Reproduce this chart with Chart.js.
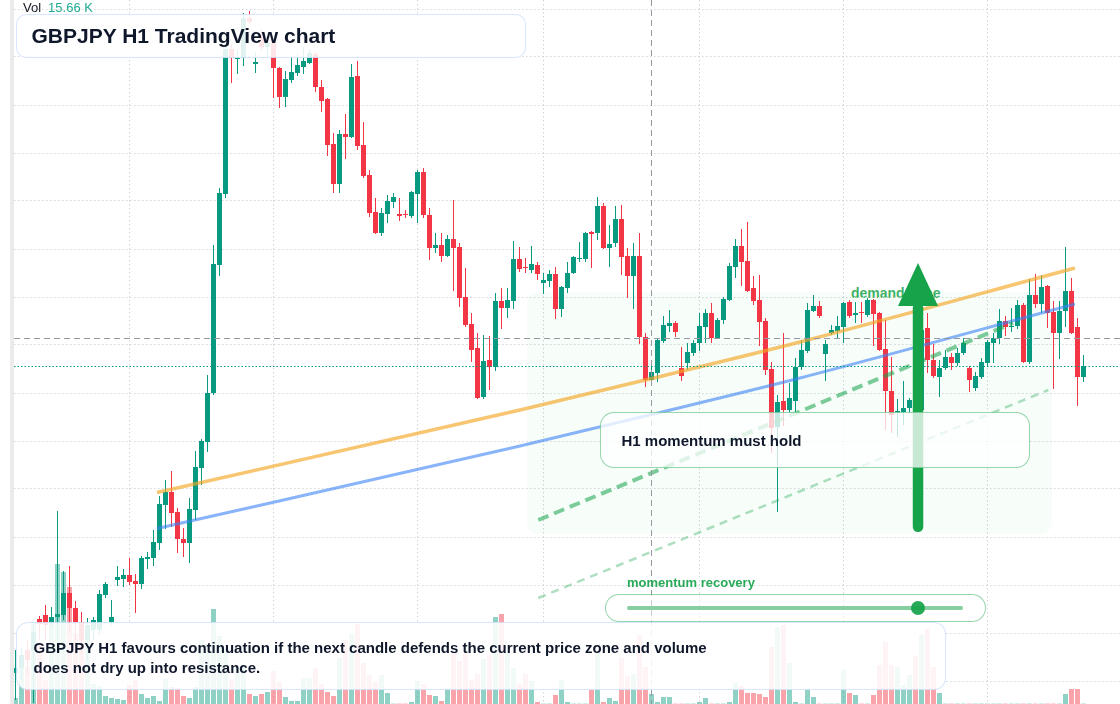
<!DOCTYPE html>
<html lang="en">
<head>
<meta charset="utf-8">
<title>GBPJPY H1 TradingView chart</title>
<script src="https://cdn.jsdelivr.net/npm/chart.js@4.4.1/dist/chart.umd.min.js"></script>
<style>
  html, body { margin: 0; padding: 0; background: #fff; }
  #stage { position: relative; width: 1120px; height: 704px; overflow: hidden;
           font-family: "Liberation Sans", Arial, sans-serif; color: #0f172a; }
  #stage > * { position: absolute; box-sizing: border-box; }
  #axisStrip { left: 10px; top: 0; width: 4px; height: 704px; background: #ebebeb; }
  #chart { left: 0; top: 0; z-index: 1; }
  #zoneLabel { left: 851px; top: 285px; line-height: 16px; font-size: 14px; font-weight: bold;
               color: rgba(22,163,74,.85); white-space: nowrap; z-index: 0; }
  #volLabel { left: 23px; top: 0; line-height: 16px; font-size: 13px; color: #131722; z-index: 3; }
  #volLabel span { color: #22ab94; margin-left: 7px; }
  .blueBox { border: 1.5px solid rgba(59,130,246,.2); background: rgba(255,255,255,.88); z-index: 2; }
  #titleBox { left: 16px; top: 14px; width: 510px; height: 44px; border-radius: 10px;
              padding-left: 14.5px; line-height: 41px; font-size: 21px; font-weight: bold; white-space: nowrap; }
  #captionBox { left: 16px; top: 622px; width: 930px; height: 68px; border-radius: 12px;
                padding: 14.5px 0 0 16.5px; line-height: 20px; font-size: 15px; font-weight: bold; }
  #noteBox { left: 600px; top: 412px; width: 430px; height: 56px; border-radius: 14px; z-index: 2;
             border: 1.5px solid rgba(22,163,74,.45); background: rgba(255,255,255,.76);
             padding: 2px 0 0 20.5px; line-height: 51px; font-size: 15px; font-weight: bold; white-space: nowrap; }
  #sliderLabel { left: 627px; top: 575px; line-height: 16px; font-size: 13px; font-weight: bold;
                 color: rgba(22,163,74,.92); white-space: nowrap; z-index: 2; }
  #sliderPill { left: 605px; top: 594px; width: 381px; height: 28px; border-radius: 14px; z-index: 2;
                border: 1.5px solid rgba(22,163,74,.45); background: rgba(255,255,255,.55); }
  #sliderTrack { left: 627px; top: 606px; width: 336px; height: 4px; border-radius: 2px; z-index: 2;
                 background: rgba(22,163,74,.52); }
  #sliderKnob { left: 911px; top: 601px; width: 14px; height: 14px; border-radius: 50%; z-index: 2;
                background: rgba(22,163,74,.92); }
</style>
</head>
<body>
<div id="stage">
  <div id="axisStrip"></div>
  <div id="zoneLabel">demand zone</div>
  <canvas id="chart" width="1120" height="704"></canvas>
  <div id="volLabel">Vol<span>15.66 K</span></div>
  <div id="noteBox">H1 momentum must hold</div>
  <div id="sliderLabel">momentum recovery</div>
  <div id="sliderPill"></div>
  <div id="sliderTrack"></div>
  <div id="sliderKnob"></div>
  <div id="captionBox" class="blueBox">GBPJPY H1 favours continuation if the next candle defends the current price zone and volume<br>does not dry up into resistance.</div>
  <div id="titleBox" class="blueBox">GBPJPY H1 TradingView chart</div>
</div>

<script>
// ── Hourly candles (index 0 = oldest bar on screen) ─────────
const opens = [
  193.27,193.32,193.50,193.50,193.81,193.85,193.78,193.83,193.85,194.07,193.92,193.78,
  193.60,193.70,193.70,194.05,193.78,194.20,194.21,194.25,194.19,194.16,194.41,194.42,
  194.57,194.95,195.08,194.88,194.61,194.57,194.90,195.32,195.58,196.07,197.35,198.06,
  199.51,199.41,199.42,199.82,199.36,199.63,199.53,199.57,199.32,199.03,199.20,199.27,
  199.33,199.37,199.46,199.13,199.01,198.56,198.16,198.66,198.63,199.24,198.55,198.25,
  197.88,197.67,197.86,197.98,197.86,197.86,197.84,198.06,198.28,197.85,197.52,197.55,
  197.44,197.61,197.53,197.03,196.76,196.52,196.03,196.40,196.33,196.99,196.92,196.99,
  197.41,197.33,197.30,197.35,197.17,197.19,197.26,196.91,197.12,197.27,197.41,197.41,
  197.68,197.67,197.94,197.52,197.57,197.81,197.44,197.24,197.44,196.63,196.20,196.27,
  196.59,196.74,196.77,196.32,196.37,196.47,196.57,196.73,196.87,196.62,196.80,197.00,
  197.33,197.54,197.39,197.12,197.00,196.79,196.31,195.73,195.99,195.90,195.99,196.33,
  196.49,196.89,196.94,196.46,196.67,196.69,196.73,196.98,196.85,196.88,196.85,197.00,
  196.87,196.51,196.09,195.87,195.88,195.92,196.00,195.90,196.72,196.40,196.23,196.32,
  196.43,196.37,196.47,196.32,196.12,196.23,196.37,196.57,196.62,196.79,196.73,196.74,
  196.95,196.38,197.05,196.96,197.14,196.88,196.67,196.89,197.09,196.73,196.23
];
const highs = [
  193.50,193.52,193.60,193.75,193.84,193.95,193.93,194.89,194.29,194.34,193.99,193.88,
  193.82,193.83,194.10,194.18,194.00,194.34,194.31,194.42,194.26,194.44,194.48,194.70,
  195.04,195.20,195.29,194.92,194.72,195.02,195.49,195.61,196.25,197.55,198.12,199.55,
  199.55,199.50,199.87,199.89,199.48,199.70,199.62,199.60,199.33,199.29,199.44,199.45,
  199.53,199.50,199.48,199.20,199.02,198.67,198.70,198.86,199.36,199.39,198.78,198.30,
  198.02,197.92,198.05,198.07,198.02,197.90,198.09,198.30,198.32,197.92,197.67,197.67,
  197.65,198.00,197.57,197.32,196.87,196.67,196.65,196.64,197.07,197.12,197.12,197.59,
  197.53,197.42,197.54,197.38,197.27,197.30,197.33,197.14,197.38,197.44,197.58,197.68,
  197.69,198.03,197.97,197.75,197.94,197.95,197.52,197.57,197.67,196.67,196.40,196.62,
  196.84,196.90,196.79,196.53,196.57,196.60,196.87,196.91,196.97,196.82,197.03,197.37,
  197.61,197.71,197.78,197.24,197.25,196.82,196.38,196.05,196.67,196.17,196.42,196.60,
  196.97,197.05,196.99,196.60,196.75,196.84,196.98,197.00,196.98,196.98,197.02,197.01,
  196.88,196.80,196.43,196.01,196.19,196.02,196.05,196.75,196.87,196.56,196.40,196.50,
  196.47,196.52,196.62,196.34,196.28,196.42,196.60,196.67,196.91,196.84,196.92,197.00,
  196.97,197.21,197.26,197.25,197.15,196.99,196.99,197.53,197.22,196.82,196.45
];
const lows = [
  193.00,193.20,193.25,192.97,193.60,193.60,193.72,193.60,193.80,193.67,193.60,193.45,
  193.40,193.60,193.65,194.02,193.75,194.14,194.13,194.15,193.87,194.11,194.31,194.34,
  194.50,194.71,194.73,194.47,194.43,194.37,194.80,195.15,195.48,196.05,197.24,198.02,
  199.17,199.26,199.34,199.76,199.27,199.50,199.43,199.02,198.92,198.93,199.17,199.24,
  199.26,199.36,199.08,198.88,198.44,198.07,198.07,198.41,198.62,198.50,198.22,197.83,
  197.66,197.64,197.77,197.92,197.79,197.82,197.82,197.77,197.82,197.40,197.47,197.38,
  197.43,197.09,196.93,196.73,196.38,196.01,196.01,196.10,196.29,196.71,196.82,196.91,
  197.28,197.27,197.27,197.20,197.06,197.13,196.81,196.83,197.07,197.26,197.38,197.38,
  197.32,197.60,197.51,197.33,197.53,197.25,197.02,196.91,196.56,196.13,196.16,196.18,
  196.57,196.68,196.63,196.19,196.30,196.44,196.49,196.57,196.57,196.61,196.76,196.99,
  197.22,197.14,197.08,196.95,196.54,196.25,195.47,194.88,195.74,195.87,195.88,196.30,
  196.47,196.88,196.82,196.19,196.65,196.61,196.57,196.82,196.77,196.77,196.83,196.54,
  196.49,195.70,195.67,195.63,195.75,195.88,195.80,195.86,196.27,196.22,196.03,196.30,
  196.30,196.34,196.45,196.08,196.09,196.21,196.33,196.37,196.56,196.64,196.68,196.71,
  196.37,196.36,196.92,196.87,196.72,196.11,196.41,196.73,196.66,195.94,196.18
];
const closes = [
  193.32,193.45,193.40,193.68,193.76,193.75,193.83,193.86,194.07,193.92,193.78,193.60,
  193.75,193.80,194.06,194.16,193.83,194.23,194.25,194.18,194.16,194.42,194.43,194.58,
  194.96,195.08,194.87,194.61,194.57,194.91,195.33,195.59,196.07,197.36,198.07,199.51,
  199.42,199.42,199.82,199.78,199.38,199.53,199.57,199.32,199.03,199.21,199.28,199.35,
  199.39,199.47,199.13,198.99,198.55,198.16,198.66,198.63,199.23,198.54,198.24,197.87,
  197.67,197.87,197.99,198.03,197.84,197.85,198.08,198.28,197.85,197.52,197.55,197.44,
  197.61,197.52,197.02,196.75,196.50,196.02,196.39,196.33,196.99,196.92,197.00,197.41,
  197.31,197.32,197.36,197.26,197.20,197.26,196.91,197.13,197.27,197.43,197.42,197.67,
  197.66,197.94,197.52,197.56,197.81,197.43,197.24,197.44,196.63,196.20,196.28,196.60,
  196.75,196.77,196.68,196.24,196.48,196.57,196.74,196.87,196.62,196.80,197.01,197.34,
  197.54,197.38,197.09,196.99,196.78,196.30,195.72,195.98,195.90,196.02,196.33,196.50,
  196.90,196.94,196.84,196.56,196.70,196.74,196.97,196.84,196.87,196.87,197.00,196.86,
  196.50,196.09,195.85,195.89,195.92,196.00,195.88,196.70,196.40,196.24,196.32,196.43,
  196.37,196.47,196.57,196.20,196.24,196.38,196.58,196.62,196.79,196.73,196.74,196.95,
  196.38,197.05,196.96,197.13,196.87,196.67,196.89,197.09,196.67,196.23,196.34
];
// volume in thousands
const volumes = [
  6,39,37,82,60,24,84,140,132,117,70,76,
  76,20,18,8,6,5,4,19,24,10,6,8,
  3,25,17,16,8,6,17,64,60,95,68,55,
  24,37,37,10,8,10,12,33,22,7,3,3,
  26,26,36,20,12,8,46,64,70,80,41,29,
  22,29,11,0.4,0.4,0.4,2,23,20,9,8,3,
  16,52,43,52,24,30,45,49,87,90,52,36,
  20,30,23,2,0.4,0.4,9,24,2,0.4,0.4,0.4,
  14,51,2,6,3,46,28,30,69,37,10,2,
  7,7,0.4,0.4,0.4,0.4,2,6,0.4,0.4,0.4,2,
  21,18,11,11,10,7,57,77,79,41,2,0.4,
  15,7,0.4,0.4,0.4,0.4,34,11,9,0.4,0.4,9,
  39,62,39,37,19,29,48,69,75,37,11,0.4,
  0.4,0.4,0.4,0.4,0.4,0.4,0.4,0.4,0.4,0.4,0.4,0.4,
  0.4,0.4,0.4,0.4,0.4,0.4,0.4,10,15,15,0.4
];

// ── Drawn studies (bar index, price) ────────────────────────
const trendX   = [23.58, 84.08, 106, 130.75, 176.58];
const orangeY  = [195.075, 195.90, 196.215, 196.58, 197.32];
const blueY    = [194.715, 195.54, 195.855, 196.22, 196.96];
const momentumX = [87.13, 166.25];
const momentumY = [194.80, 196.77];
const supportX  = [87.13, 172.13];
const supportY  = [194.02, 196.10];

// ── Grid, zone, arrow, crosshair ─────────────────────────────
const priceGrid = [199.91,199.43,198.95,198.47,197.99,197.51,197.03,196.55,196.07,195.59,195.11,194.63,194.15,193.67,193.19];
const timeGrid  = [19, 43, 67, 88, 114, 138, 162];
const zone      = { from: 85.25, to: 172.75, top: 197.08, bottom: 194.66 };
const arrowMark = { at: 150.42, tip: 197.37, neck: 196.94, tail: 194.68 };
const crossAt   = { bar: 106, price: 196.617 };

const UP = '#089981', DOWN = '#f23645';
const isUp = i => closes[i] >= opens[i];
const pts = (xs, ys) => xs.map((x, i) => ({ x, y: ys[i] }));

const overlay = {
  id: 'overlay',
  beforeDatasetsDraw(chart) {
    const { ctx, chartArea: a, scales: { x, y } } = chart;
    ctx.save();
    ctx.strokeStyle = '#d3d5d9';
    ctx.lineWidth = 1;
    ctx.setLineDash([1.5, 2.5]);
    priceGrid.forEach(p => {
      const py = Math.floor(y.getPixelForValue(p)) + 0.5;
      ctx.beginPath(); ctx.moveTo(a.left, py); ctx.lineTo(a.right, py); ctx.stroke();
    });
    timeGrid.forEach(t => {
      const px = x.getPixelForValue(t);
      ctx.beginPath(); ctx.moveTo(px, a.top); ctx.lineTo(px, a.bottom); ctx.stroke();
    });
    ctx.setLineDash([]);
    // demand zone
    const zx = x.getPixelForValue(zone.from), zy = y.getPixelForValue(zone.top);
    ctx.fillStyle = 'rgba(34,197,94,0.035)';
    ctx.beginPath();
    ctx.roundRect(zx, zy, x.getPixelForValue(zone.to) - zx, y.getPixelForValue(zone.bottom) - zy, 12);
    ctx.fill();
    ctx.restore();
  },
  afterDatasetsDraw(chart) {
    const { ctx, chartArea: a, scales: { x, y } } = chart;
    ctx.save();
    // last price line
    const lp = Math.floor(y.getPixelForValue(closes[closes.length - 1])) + 0.5;
    ctx.strokeStyle = UP; ctx.lineWidth = 1.2; ctx.setLineDash([1.5, 2]);
    ctx.beginPath(); ctx.moveTo(a.left, lp); ctx.lineTo(a.right, lp); ctx.stroke();
    // crosshair
    ctx.strokeStyle = '#9598a1'; ctx.lineWidth = 1; ctx.setLineDash([6, 4]);
    const cy = Math.floor(y.getPixelForValue(crossAt.price)) + 0.5;
    const cx = x.getPixelForValue(crossAt.bar);
    ctx.beginPath(); ctx.moveTo(a.left, cy); ctx.lineTo(a.right, cy); ctx.stroke();
    ctx.beginPath(); ctx.moveTo(cx, a.top); ctx.lineTo(cx, a.bottom); ctx.stroke();
    ctx.setLineDash([]);
    // arrow
    const ax = x.getPixelForValue(arrowMark.at);
    const tipY = y.getPixelForValue(arrowMark.tip), neckY = y.getPixelForValue(arrowMark.neck);
    const tailY = y.getPixelForValue(arrowMark.tail);
    ctx.strokeStyle = ctx.fillStyle = '#16a34a';
    ctx.lineWidth = 10.5; ctx.lineCap = 'round';
    ctx.beginPath(); ctx.moveTo(ax, neckY + 2); ctx.lineTo(ax, tailY - 5.25); ctx.stroke();
    ctx.beginPath(); ctx.moveTo(ax, tipY); ctx.lineTo(ax + 20, neckY); ctx.lineTo(ax - 20, neckY);
    ctx.closePath(); ctx.fill();
    ctx.restore();
  }
};

const idx = opens.map((_, i) => i);

new Chart(document.getElementById('chart'), {
  type: 'bar',
  data: {
    datasets: [
      {
        label: 'Volume', yAxisID: 'yVol', order: 5,
        data: idx.map(i => ({ x: i, y: volumes[i] })),
        backgroundColor: idx.map(i => isUp(i) ? 'rgba(8,153,129,0.45)' : 'rgba(242,54,69,0.45)'),
        barThickness: 5
      },
      {
        label: 'Wicks', order: 4,
        data: idx.map(i => ({ x: i, y: [lows[i], highs[i]] })),
        backgroundColor: idx.map(i => isUp(i) ? UP : DOWN),
        barThickness: 1
      },
      {
        label: 'Bodies', order: 3,
        data: idx.map(i => ({ x: i, y: [opens[i], closes[i]] })),
        backgroundColor: idx.map(i => isUp(i) ? UP : DOWN),
        barThickness: 5
      },
      {
        type: 'line', label: 'Upper trend', order: 1,
        data: pts(trendX, orangeY), borderColor: 'rgba(245,166,35,0.65)', borderWidth: 3.5,
        cubicInterpolationMode: 'monotone', pointRadius: 0, fill: false
      },
      {
        type: 'line', label: 'Lower trend', order: 1,
        data: pts(trendX, blueY), borderColor: 'rgba(59,130,246,0.6)', borderWidth: 3,
        cubicInterpolationMode: 'monotone', pointRadius: 0, fill: false
      },
      {
        type: 'line', label: 'Momentum', order: 0,
        data: pts(momentumX, momentumY), borderColor: 'rgba(22,163,74,0.55)', borderWidth: 4,
        borderDash: [11, 6], pointRadius: 0, fill: false
      },
      {
        type: 'line', label: 'Support', order: 0,
        data: pts(supportX, supportY), borderColor: 'rgba(22,163,74,0.35)', borderWidth: 2.5,
        borderDash: [8, 6], pointRadius: 0, fill: false
      }
    ]
  },
  options: {
    responsive: false, animation: false, events: [], devicePixelRatio: 1,
    layout: { padding: { left: 14, right: 0, top: 0, bottom: 0 } },
    datasets: { bar: { grouped: false, borderWidth: 0, inflateAmount: 0 } },
    plugins: { legend: { display: false }, tooltip: { enabled: false } },
    scales: {
      x: { type: 'linear', min: -0.25, max: 184.0833, offset: false, display: false },
      y: { min: 192.96, max: 200, display: false },
      yVol: { min: 0, max: 704, display: false }
    }
  },
  plugins: [overlay]
});
</script>
</body>
</html>
